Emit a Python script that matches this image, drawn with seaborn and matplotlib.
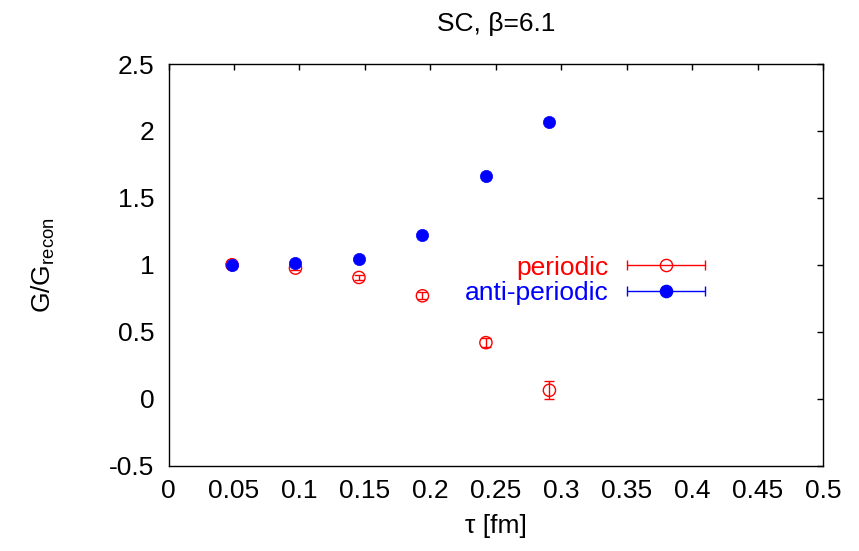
import numpy as np
import matplotlib
matplotlib.use("Agg")
import matplotlib.pyplot as plt
import seaborn as sns
from matplotlib.container import ErrorbarContainer
from matplotlib.legend_handler import HandlerErrorbar

tau = [0.0485, 0.097, 0.1455, 0.194, 0.2425, 0.291]
periodic = [1.0, 0.975, 0.905, 0.768, 0.418, 0.062]
periodic_err = [0.01, 0.015, 0.02, 0.025, 0.035, 0.066]
anti = [1.0, 1.012, 1.043, 1.222, 1.662, 2.068]
anti_err = [0.005, 0.006, 0.008, 0.01, 0.015, 0.02]

xticks = [0, 0.05, 0.1, 0.15, 0.2, 0.25, 0.3, 0.35, 0.4, 0.45, 0.5]
xticklabels = ["0", "0.05", "0.1", "0.15", "0.2", "0.25", "0.3", "0.35", "0.4", "0.45", "0.5"]
yticks = [-0.5, 0, 0.5, 1, 1.5, 2, 2.5]
yticklabels = ["-0.5", "0", "0.5", "1", "1.5", "2", "2.5"]

sns.set_style("white")
plt.rcParams["font.family"] = ["Liberation Sans", "DejaVu Sans"]
plt.rcParams["mathtext.fontset"] = "custom"
plt.rcParams["mathtext.rm"] = "Liberation Sans"
plt.rcParams["mathtext.it"] = "Liberation Sans"
for k in ["text.color", "axes.labelcolor", "xtick.color", "ytick.color", "axes.edgecolor"]:
    plt.rcParams[k] = "black"

fig = plt.figure(figsize=(8.59, 5.51), dpi=100)
ax = fig.add_axes([168.5 / 859, 1 - 465.5 / 551, 654.5 / 859, 401.5 / 551])

red = "#ff0000"
blue = "#0000ff"
ms = 8.8

df_p = {"tau": tau, "val": periodic}
df_a = {"tau": tau, "val": anti}

ax.errorbar(tau, periodic, yerr=periodic_err, fmt="none", ecolor=red,
            elinewidth=1, capsize=3.5, capthick=1, zorder=2)
sns.scatterplot(x="tau", y="val", data=df_p, ax=ax, marker="o", s=ms**2,
                facecolors="none", edgecolor=red, linewidth=1, zorder=3, legend=False)
ax.errorbar(tau, anti, yerr=anti_err, fmt="none", ecolor=blue,
            elinewidth=1, capsize=3.5, capthick=1, zorder=4)
sns.scatterplot(x="tau", y="val", data=df_a, ax=ax, marker="o", s=ms**2,
                color=blue, edgecolor=blue, linewidth=0.5, zorder=5, legend=False)

# legend handles: NaN-positioned errorbars with horizontal bars (not visible in axes)
h1 = ax.errorbar([np.nan], [np.nan], xerr=[0.0], fmt="o", color=red, mfc="none", mec=red,
                 ms=ms, elinewidth=1, capsize=3.5, capthick=1)
h2 = ax.errorbar([np.nan], [np.nan], xerr=[0.0], fmt="o", color=blue, mfc=blue, mec=blue,
                 ms=ms, elinewidth=1, capsize=3.5, capthick=1)

fs = 19
leg = ax.legend(handles=[h1, h2], labels=["periodic", "anti-periodic"],
                loc="upper right", bbox_to_anchor=(0.82, 0.5225),
                frameon=False, markerfirst=False, fontsize=fs,
                handlelength=2.95, handletextpad=0.72, labelspacing=0.06,
                borderpad=0, borderaxespad=0, labelcolor=[red, blue],
                handler_map={ErrorbarContainer: HandlerErrorbar(xerr_size=1.48)})

ax.set_xlim(0, 0.5)
ax.set_ylim(-0.5, 2.5)
ax.set_xticks(xticks)
ax.set_xticklabels(xticklabels)
ax.set_yticks(yticks)
ax.set_yticklabels(yticklabels)
ax.tick_params(direction="in", length=4.5, width=1, top=True, right=True,
               labelsize=fs, colors="black", pad=10)
for s in ax.spines.values():
    s.set_color("black")
    s.set_linewidth(1)

ax.set_title("SC, β=6.1", fontsize=fs, pad=24, color="black")
ax.set_xlabel("τ [fm]", fontsize=fs, labelpad=8)
ax.set_ylabel(r"G/G$_{\rm recon}$", fontsize=fs, labelpad=38)

fig.savefig("out.png", dpi=100)
